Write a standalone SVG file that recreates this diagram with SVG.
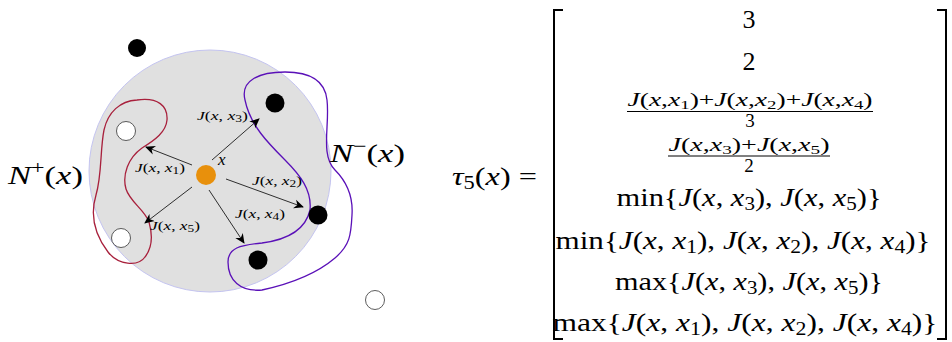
<svg xmlns="http://www.w3.org/2000/svg" width="952" height="342" viewBox="0 0 952 342">
<style>
text{font-family:"Liberation Serif","DejaVu Serif",serif;fill:#000}
.i{font-style:italic}
.lab{font-size:13px}
.m{font-size:26px}
.f{font-size:19px}
.conn line{stroke:#000;stroke-width:0.8;marker-end:url(#ah)}
.bk{fill:#000}
.wt{fill:#fff;stroke:#333;stroke-width:0.8}
.br{fill:none;stroke:#000;stroke-width:2}
.fl{stroke:#000;stroke-width:1}
</style>
<defs>
<marker id="ah" viewBox="0 0 10 10" refX="9" refY="5" markerWidth="10" markerHeight="10" markerUnits="userSpaceOnUse" orient="auto">
<path d="M0,0.5 L10,5 L0,9.5 L3,5 Z" fill="#000"/>
</marker>
</defs>
<g id="disk"><circle cx="210" cy="171" r="121" fill="#e0e0e0" stroke="#c4c4f0" stroke-width="1"/></g>
<g id="nplus-region"><path d="M137 100 C158 97 168 106 167 120 C166 132 155 140 142 148 C128 158 122 175 126 189 C130 202 145 210 149 222 C153 236 152 248 145 257 C138 267 118 265 108 252 C95 235 90 215 96 195 C102 175 100 150 104 130 C108 112 120 101 137 100 Z" fill="none" stroke="#a8203c" stroke-width="1.3"/></g>
<g id="nminus-region"><path d="M245 100 C240 80 260 72 285 72 C310 72 325 80 327 100 C330 125 320 155 335 170 C350 185 353 200 352 215 C351 235 350 245 335 258 C315 275 285 285 262 290 C240 292 228 280 228 262 C228 248 240 245 262 243 C285 240 305 232 310 210 C312 190 300 175 285 160 C268 143 250 125 245 100 Z" fill="none" stroke="#5a10b8" stroke-width="1.3"/></g>
<g class="conn" id="connectors">
<line x1="192" y1="165" x2="146" y2="147"/>
<line x1="212" y1="160" x2="259" y2="119"/>
<line x1="226" y1="179" x2="303" y2="207"/>
<line x1="209" y1="190" x2="244" y2="243"/>
<line x1="192" y1="187" x2="145" y2="223"/>
</g>
<g id="x"><circle cx="206" cy="175" r="10" fill="#e8900c"/><text x="218" y="165" class="i" font-size="17">x</text></g>
<g id="b0"><circle class="bk" cx="137" cy="48" r="9"/></g>
<g id="x3"><circle class="bk" cx="275" cy="103" r="9.5"/></g>
<g id="x2"><circle class="bk" cx="318" cy="215" r="9.5"/></g>
<g id="x4"><circle class="bk" cx="258" cy="260" r="9.5"/></g>
<g id="x1"><circle class="wt" cx="126" cy="131" r="9.5"/></g>
<g id="x5"><circle class="wt" cx="121" cy="238" r="9.5"/></g>
<g id="w0"><circle class="wt" cx="375" cy="300" r="9.5"/></g>
<g id="labels">
<text class="lab" x="197" y="120" textLength="51" lengthAdjust="spacingAndGlyphs"><tspan class="i">J</tspan>(<tspan class="i">x</tspan>, <tspan class="i">x</tspan><tspan font-size="10" dy="2">3</tspan><tspan dy="-2">)</tspan></text>
<text class="lab" x="135" y="172" textLength="50" lengthAdjust="spacingAndGlyphs"><tspan class="i">J</tspan>(<tspan class="i">x</tspan>, <tspan class="i">x</tspan><tspan font-size="10" dy="2">1</tspan><tspan dy="-2">)</tspan></text>
<text class="lab" x="252" y="185" textLength="50" lengthAdjust="spacingAndGlyphs"><tspan class="i">J</tspan>(<tspan class="i">x</tspan>, <tspan class="i">x</tspan><tspan font-size="10" dy="2">2</tspan><tspan dy="-2">)</tspan></text>
<text class="lab" x="235" y="218" textLength="50" lengthAdjust="spacingAndGlyphs"><tspan class="i">J</tspan>(<tspan class="i">x</tspan>, <tspan class="i">x</tspan><tspan font-size="10" dy="2">4</tspan><tspan dy="-2">)</tspan></text>
<text class="lab" x="150" y="230" textLength="50" lengthAdjust="spacingAndGlyphs"><tspan class="i">J</tspan>(<tspan class="i">x</tspan>, <tspan class="i">x</tspan><tspan font-size="10" dy="2">5</tspan><tspan dy="-2">)</tspan></text>
<text x="8" y="184" font-size="26" textLength="75" lengthAdjust="spacingAndGlyphs"><tspan class="i">N</tspan><tspan font-size="18" dy="-10">+</tspan><tspan dy="10">(</tspan><tspan class="i">x</tspan>)</text>
<text x="330" y="162" font-size="26" textLength="75" lengthAdjust="spacingAndGlyphs"><tspan class="i">N</tspan><tspan font-size="18" dy="-10">−</tspan><tspan dy="10">(</tspan><tspan class="i">x</tspan>)</text>
</g>
<g id="equation">
<text x="452" y="185" class="m" textLength="85" lengthAdjust="spacingAndGlyphs"><tspan class="i">τ</tspan><tspan font-size="18" dy="4">5</tspan><tspan dy="-4">(</tspan><tspan class="i">x</tspan>) =</text>
<path class="br" d="M563 10 H554 V339 H563"/>
<path class="br" d="M937 10 H946 V339 H937"/>
<g text-anchor="middle">
<text x="749" y="28" class="m">3</text>
<text x="749" y="70" class="m">2</text>
<text x="750" y="106" class="f" textLength="245" lengthAdjust="spacingAndGlyphs"><tspan class="i">J</tspan>(<tspan class="i">x</tspan>,<tspan class="i">x</tspan><tspan font-size="13" dy="3">1</tspan><tspan dy="-3">)+</tspan><tspan class="i">J</tspan>(<tspan class="i">x</tspan>,<tspan class="i">x</tspan><tspan font-size="13" dy="3">2</tspan><tspan dy="-3">)+</tspan><tspan class="i">J</tspan>(<tspan class="i">x</tspan>,<tspan class="i">x</tspan><tspan font-size="13" dy="3">4</tspan><tspan dy="-3">)</tspan></text>
<line class="fl" x1="627" y1="111.5" x2="873" y2="111.5"/>
<text x="750" y="127" class="f">3</text>
<text x="749" y="151" class="f" textLength="161" lengthAdjust="spacingAndGlyphs"><tspan class="i">J</tspan>(<tspan class="i">x</tspan>,<tspan class="i">x</tspan><tspan font-size="13" dy="3">3</tspan><tspan dy="-3">)+</tspan><tspan class="i">J</tspan>(<tspan class="i">x</tspan>,<tspan class="i">x</tspan><tspan font-size="13" dy="3">5</tspan><tspan dy="-3">)</tspan></text>
<line class="fl" x1="668" y1="156" x2="830" y2="156"/>
<text x="749" y="172" class="f">2</text>
<text x="749" y="206" class="m" textLength="265" lengthAdjust="spacingAndGlyphs">min{<tspan class="i">J</tspan>(<tspan class="i">x</tspan>, <tspan class="i">x</tspan><tspan font-size="18" dy="4">3</tspan><tspan dy="-4">), </tspan><tspan class="i">J</tspan>(<tspan class="i">x</tspan>, <tspan class="i">x</tspan><tspan font-size="18" dy="4">5</tspan><tspan dy="-4">)}</tspan></text>
<text x="743" y="249" class="m" textLength="375" lengthAdjust="spacingAndGlyphs">min{<tspan class="i">J</tspan>(<tspan class="i">x</tspan>, <tspan class="i">x</tspan><tspan font-size="18" dy="4">1</tspan><tspan dy="-4">), </tspan><tspan class="i">J</tspan>(<tspan class="i">x</tspan>, <tspan class="i">x</tspan><tspan font-size="18" dy="4">2</tspan><tspan dy="-4">), </tspan><tspan class="i">J</tspan>(<tspan class="i">x</tspan>, <tspan class="i">x</tspan><tspan font-size="18" dy="4">4</tspan><tspan dy="-4">)}</tspan></text>
<text x="749" y="290" class="m" textLength="268" lengthAdjust="spacingAndGlyphs">max{<tspan class="i">J</tspan>(<tspan class="i">x</tspan>, <tspan class="i">x</tspan><tspan font-size="18" dy="4">3</tspan><tspan dy="-4">), </tspan><tspan class="i">J</tspan>(<tspan class="i">x</tspan>, <tspan class="i">x</tspan><tspan font-size="18" dy="4">5</tspan><tspan dy="-4">)}</tspan></text>
<text x="745" y="331" class="m" textLength="385" lengthAdjust="spacingAndGlyphs">max{<tspan class="i">J</tspan>(<tspan class="i">x</tspan>, <tspan class="i">x</tspan><tspan font-size="18" dy="4">1</tspan><tspan dy="-4">), </tspan><tspan class="i">J</tspan>(<tspan class="i">x</tspan>, <tspan class="i">x</tspan><tspan font-size="18" dy="4">2</tspan><tspan dy="-4">), </tspan><tspan class="i">J</tspan>(<tspan class="i">x</tspan>, <tspan class="i">x</tspan><tspan font-size="18" dy="4">4</tspan><tspan dy="-4">)}</tspan></text>
</g>
</g>
</svg>
